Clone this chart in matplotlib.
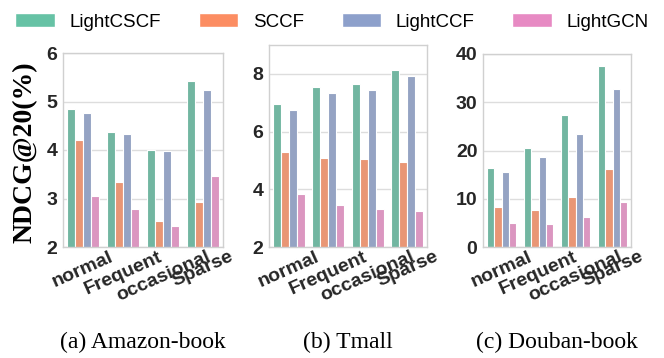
import colorsys
import numpy as np
import matplotlib
matplotlib.use('Agg')
import matplotlib.pyplot as plt
import matplotlib.colors as mcolors
from matplotlib.patches import Patch

# datos
cats = ['normal', 'Frequent', 'occasional', 'Sparse']
methods = ['LightCSCF', 'SCCF', 'LightCCF', 'LightGCN']

amazon_lightcscf = [4.84, 4.38, 4.00, 5.42]
amazon_sccf = [4.21, 3.33, 2.54, 2.93]
amazon_lightccf = [4.76, 4.34, 3.98, 5.23]
amazon_lightgcn = [3.05, 2.79, 2.44, 3.46]

tmall_lightcscf = [6.95, 7.53, 7.64, 8.12]
tmall_sccf = [5.28, 5.07, 5.04, 4.96]
tmall_lightccf = [6.74, 7.33, 7.45, 7.92]
tmall_lightgcn = [3.83, 3.45, 3.33, 3.24]

douban_lightcscf = [16.3, 20.5, 27.3, 37.6]
douban_sccf = [8.3, 7.75, 10.45, 16.1]
douban_lightccf = [15.6, 18.55, 23.4, 32.8]
douban_lightgcn = [4.9, 4.7, 6.3, 9.4]

titles = ['(a) Amazon-book', '(b) Tmall', '(c) Douban-book']
yticks = [[2, 3, 4, 5, 6], [2, 4, 6, 8], [0, 10, 20, 30, 40]]
ylims = [(2, 6), (2, 9), (0, 40)]

set2 = ['#66c2a5', '#fc8d62', '#8da0cb', '#e78ac3']

def desat(c, prop=0.75):
    r, g, b = mcolors.to_rgb(c)
    h, l, s = colorsys.rgb_to_hls(r, g, b)
    return colorsys.hls_to_rgb(h, l, s * prop)

bar_colors = [desat(c) for c in set2]

data = [
    [amazon_lightcscf, amazon_sccf, amazon_lightccf, amazon_lightgcn],
    [tmall_lightcscf, tmall_sccf, tmall_lightccf, tmall_lightgcn],
    [douban_lightcscf, douban_sccf, douban_lightccf, douban_lightgcn],
]

W, H = 664., 358.
# posiciones de los ejes en pixeles (izq, abajo, ancho, alto)
boxes = [(63, 247, 160, 194), (269, 247, 158, 202), (483, 247, 148, 193)]

fig = plt.figure(figsize=(6.64, 3.58), dpi=100)
sans = 'Liberation Sans'
serif = 'Liberation Serif'

x = np.arange(len(cats))
w = 0.2
for k in range(3):
    l, b, ww, hh = boxes[k]
    ax = fig.add_axes([l / W, 1 - b / H, ww / W, hh / H])
    for j in range(4):
        ax.bar(x + (j - 1.5) * w, data[k][j], width=w, color=bar_colors[j],
               edgecolor='white', linewidth=0.8, zorder=2)
    ax.set_xlim(-0.5, 3.5)
    ax.set_ylim(*ylims[k])
    ax.set_yticks(yticks[k])
    ax.set_xticks(x)
    ax.set_xticklabels(cats, rotation=24, ha='center')
    ax.yaxis.grid(True, color='#dddddd', linewidth=1.0, zorder=0)
    ax.xaxis.grid(False)
    ax.set_axisbelow(True)
    for s in ax.spines.values():
        s.set_color('#d0d0d0')
        s.set_linewidth(1.0)
    ax.tick_params(length=0, pad=4, colors='#262626')
    for t in ax.get_xticklabels() + ax.get_yticklabels():
        t.set_fontfamily(sans)
        t.set_fontweight('bold')
        t.set_fontsize(14)
    ax.tick_params(axis='x', pad=1)
    fig.text((l + ww / 2) / W, 1 - 342 / H, titles[k], family=serif,
             fontsize=17, ha='center', va='center')

fig.text(25 / W, 1 - 152 / H, 'NDCG@20(%)', family=serif, fontweight='bold',
         fontsize=20, rotation=90, ha='center', va='center')

handles = [Patch(facecolor=c, edgecolor='white') for c in set2]
fig.legend(handles, methods, loc='upper center', bbox_to_anchor=(0.5, 1.01),
           ncol=4, frameon=False, prop={'family': sans, 'size': 13.5},
           handlelength=2.1, handleheight=0.75, handletextpad=0.8,
           columnspacing=2.0)

fig.savefig('out.png', dpi=100)
